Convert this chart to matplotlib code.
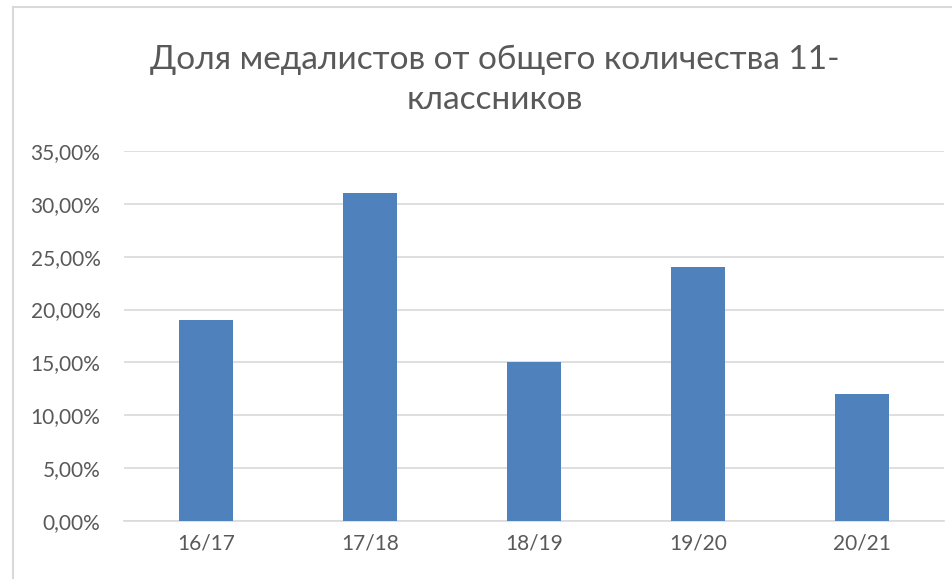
import matplotlib.pyplot as plt
from matplotlib.lines import Line2D
from matplotlib.ticker import FuncFormatter

# chart data (share of medalists, %)
years = ["16/17", "17/18", "18/19", "19/20", "20/21"]
share = [19, 31, 15, 24, 12]
y_ticks = [0, 5, 10, 15, 20, 25, 30, 35]

plt.rcParams["font.family"] = ["Lato", "DejaVu Sans"]
text_color = "#595959"
grid_color = "#d9d9d9"

fig = plt.figure(figsize=(9.53, 5.79), dpi=100)
ax = fig.add_axes([124 / 953, 58 / 579, 820 / 953, 370 / 579])

x = range(len(years))
ax.bar(x, share, width=0.33, color="#4f81bd", zorder=3)

ax.set_xlim(-0.5, len(years) - 0.5)
ax.set_ylim(0, 35)
ax.set_yticks(y_ticks)
ax.yaxis.set_major_formatter(FuncFormatter(lambda v, _: f"{v:.2f}%".replace(".", ",")))
ax.set_xticks(list(x))
ax.set_xticklabels(years)

ax.grid(axis="y", color=grid_color, linewidth=1.2, zorder=0)
for side in ["top", "right", "left"]:
    ax.spines[side].set_visible(False)
ax.spines["bottom"].set_color(grid_color)
ax.spines["bottom"].set_linewidth(1.2)

ax.tick_params(axis="both", length=0, labelsize=15, colors=text_color)
ax.tick_params(axis="y", pad=17)
ax.tick_params(axis="x", pad=9)

fig.text(495 / 953, 1 - 60 / 579, "Доля медалистов от общего количества 11-",
         ha="center", va="center", fontsize=24, color=text_color)
fig.text(495 / 953, 1 - 100 / 579, "классников",
         ha="center", va="center", fontsize=24, color=text_color)

# chart area border (left and top edges visible)
fig.add_artist(Line2D([13 / 953, 13 / 953], [0, 1 - 7 / 579],
                      transform=fig.transFigure, color=grid_color, linewidth=1.5))
fig.add_artist(Line2D([13 / 953, 1], [1 - 7 / 579, 1 - 7 / 579],
                      transform=fig.transFigure, color=grid_color, linewidth=1.5))

fig.savefig("out.png", dpi=100)
